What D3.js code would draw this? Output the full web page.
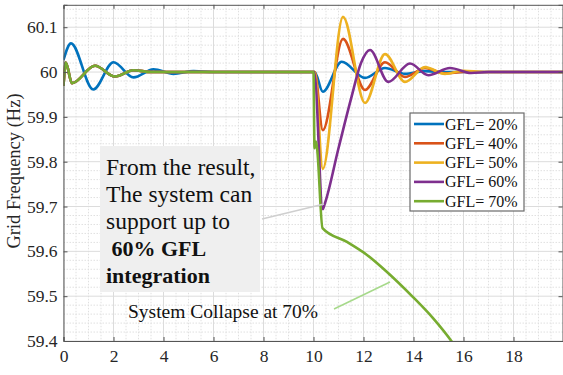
<!DOCTYPE html>
<html><head><meta charset="utf-8">
<script src="https://cdn.jsdelivr.net/npm/d3@7"></script>
<style>
html,body{margin:0;padding:0;background:#fff;}
svg{display:block;font-family:"Liberation Serif","Times New Roman",serif;}
</style></head>
<body>
<svg id="c" width="563" height="375"></svg>
<script>
// ---------- data ----------
const seriesNames = ["GFL= 20%", "GFL= 40%", "GFL= 50%", "GFL= 60%", "GFL= 70%"];
const seriesColors = ["#0072BD", "#D95319", "#EDB120", "#7E2F8E", "#77AC30"];
const xTicks = [0, 2, 4, 6, 8, 10, 12, 14, 16, 18];
const yTicks = [59.4, 59.5, 59.6, 59.7, 59.8, 59.9, 60, 60.1];
const yTickLabels = ["59.4", "59.5", "59.6", "59.7", "59.8", "59.9", "60", "60.1"];

// initial transient shared by 40/50/60/70 %
const tStart = [0, 0.09, 0.34, 1.26, 2.06, 2.8, 3.5, 10.0];
const fStart = [59.969, 60.021, 59.975, 60.014, 59.990, 60.004, 60.0, 60.0];

const t20 = [0, 0.3, 1.19, 2.0, 2.8, 3.6, 4.4, 5.2, 6.0, 10.05, 10.37, 11.13, 12.06, 12.86, 13.66, 14.46, 15.3, 20];
const f20 = [60.027, 60.064, 59.961, 60.022, 59.988, 60.006, 59.996, 60.002, 60.0, 60.0, 59.956, 60.023, 59.987, 60.009, 59.996, 60.002, 60.0, 60.0];

const t40 = [10.05, 10.37, 11.18, 12.06, 12.86, 13.66, 14.46, 15.26, 16.0, 20];
const f40 = [60.0, 59.870, 60.074, 59.960, 60.022, 59.989, 60.009, 59.997, 60.0, 60.0];

const t50 = [10.05, 10.37, 11.18, 12.06, 12.86, 13.66, 14.46, 15.26, 16.0, 16.8, 20];
const f50 = [60.0, 59.784, 60.123, 59.931, 60.040, 59.978, 60.011, 59.996, 60.003, 60.0, 60.0];

const t60 = [10.03, 10.37, 10.45, 11.0, 11.5, 11.9, 12.26, 12.99, 13.86, 14.59, 15.46, 16.3, 17.0, 20];
const f60 = [60.0, 59.694, 59.706, 59.830, 59.940, 60.020, 60.049, 59.978, 60.019, 59.993, 60.009, 59.998, 60.0, 60.0];

const t70 = [10.0, 10.04, 10.1, 10.15, 10.36, 11.34, 12.14, 12.94, 13.98, 14.78, 15.54, 16.0];
const f70 = [60.0, 59.830, 59.845, 59.826, 59.652, 59.621, 59.592, 59.554, 59.498, 59.451, 59.398, 59.36];

const annotationLines = ["From the result,", "The system can", "support up to", "\u00a060% GFL", "integration"];
const collapseText = "System Collapse at 70%";
const yLabel = "Grid Frequency (Hz)";

// ---------- build ----------
const zip = (ts, fs) => ts.map((t, i) => [t, fs[i]]);
const startPts = zip(tStart, fStart);
const series = [
  zip(t20, f20),
  startPts.concat(zip(t40, f40)),
  startPts.concat(zip(t50, f50)),
  startPts.concat(zip(t60, f60)),
  startPts.slice(0, -1).concat(zip(t70, f70))
];

const svg = d3.select("#c");
const L = 63.5, R = 563.5, T = 4.8, B = 341;
const x = d3.scaleLinear().domain([0, 20]).range([L, R]);
const y = d3.scaleLinear().domain([59.4, 60.15]).range([B, T]);

svg.append("defs").append("clipPath").attr("id", "clip")
  .append("rect").attr("x", L).attr("y", T).attr("width", R - L).attr("height", B - T);

// minor grid
const gGrid = svg.append("g");
d3.range(0, 20.01, 0.5).forEach(v => {
  if (Math.abs(v / 2 - Math.round(v / 2)) < 1e-6) return;
  gGrid.append("line").attr("x1", x(v)).attr("x2", x(v)).attr("y1", T).attr("y2", B)
    .attr("stroke", "#e0e0e0").attr("stroke-width", 1).attr("stroke-dasharray", "1.5,1.5");
});
d3.range(59.4, 60.16, 0.02).forEach(v => {
  const r = Math.round(v * 100) / 100;
  if (Math.abs(r * 10 - Math.round(r * 10)) < 1e-6) return;
  gGrid.append("line").attr("x1", L).attr("x2", R).attr("y1", y(r)).attr("y2", y(r))
    .attr("stroke", "#e0e0e0").attr("stroke-width", 1).attr("stroke-dasharray", "1.5,1.5");
});
// major grid
xTicks.forEach(v => gGrid.append("line").attr("x1", x(v)).attr("x2", x(v)).attr("y1", T).attr("y2", B)
  .attr("stroke", "#dcdcdc").attr("stroke-width", 1));
yTicks.forEach(v => gGrid.append("line").attr("x1", L).attr("x2", R).attr("y1", y(v)).attr("y2", y(v))
  .attr("stroke", "#dcdcdc").attr("stroke-width", 1));

// annotation box (behind curves)
svg.append("rect").attr("x", 100).attr("y", 146).attr("width", 160).attr("height", 146)
  .attr("fill", "#efefef");

// curves
const line = d3.line().x(d => x(d[0])).y(d => y(d[1])).curve(d3.curveMonotoneX);
const gLines = svg.append("g").attr("clip-path", "url(#clip)");
series.forEach((s, i) => {
  gLines.append("path").datum(s).attr("d", line).attr("fill", "none")
    .attr("stroke", seriesColors[i]).attr("stroke-width", 2.6).attr("stroke-linejoin", "round");
});

// axes
const axB = svg.append("g").attr("transform", `translate(0,${B})`)
  .call(d3.axisBottom(x).tickValues(xTicks).tickSize(-4).tickPadding(9).tickFormat(d3.format("d")));
const axT = svg.append("g").attr("transform", `translate(0,${T})`)
  .call(d3.axisTop(x).tickValues(xTicks).tickSize(-4).tickFormat(""));
const axL = svg.append("g").attr("transform", `translate(${L},0)`)
  .call(d3.axisLeft(y).tickValues(yTicks).tickSize(-4).tickPadding(6).tickFormat((d, i) => yTickLabels[i]));
const axR = svg.append("g").attr("transform", `translate(${R - 1},0)`)
  .call(d3.axisRight(y).tickValues(yTicks).tickSize(-4).tickFormat(""));
[axB, axT, axL, axR].forEach(g => {
  g.select(".domain").attr("stroke", "#555").attr("stroke-width", 1);
  g.selectAll(".tick line").attr("stroke", "#555");
  g.selectAll("text").attr("fill", "#262626").style("font-size", "17.5px")
    .style("font-family", "'Liberation Serif','Times New Roman',serif");
});

// y label
svg.append("text").attr("transform", "translate(20,171) rotate(-90)")
  .attr("text-anchor", "middle").style("font-size", "18.5px").attr("fill", "#262626").text(yLabel);

// annotation text
annotationLines.forEach((t, i) => {
  svg.append("text").attr("x", 106).attr("y", 175 + i * 27)
    .style("font-size", i >= 3 ? "22px" : "23.5px").style("font-weight", i >= 3 ? "bold" : "normal")
    .attr("fill", "#111").attr("xml:space", "preserve").text(t);
});
svg.append("line").attr("x1", 262).attr("y1", 219).attr("x2", 324).attr("y2", 204)
  .attr("stroke", "#cfcfcf").attr("stroke-width", 1.5);

// collapse text and arrow
svg.append("text").attr("x", 128).attr("y", 318).style("font-size", "19.5px").attr("fill", "#111").text(collapseText);
svg.append("line").attr("x1", 334).attr("y1", 309).attr("x2", 390).attr("y2", 282)
  .attr("stroke", "#a6d98a").attr("stroke-width", 1.5);

// legend
const lg = svg.append("g");
lg.append("rect").attr("x", 410).attr("y", 113).attr("width", 114).attr("height", 98)
  .attr("fill", "#fff").attr("stroke", "#6a6a6a").attr("stroke-width", 1.2);
seriesNames.forEach((n, i) => {
  const yy = 124 + i * 19.3;
  lg.append("line").attr("x1", 414).attr("x2", 444).attr("y1", yy).attr("y2", yy)
    .attr("stroke", seriesColors[i]).attr("stroke-width", 2.6);
  lg.append("text").attr("x", 445).attr("y", yy + 5.5).style("font-size", "16px").attr("fill", "#111").text(n);
});
</script>
</body></html>
